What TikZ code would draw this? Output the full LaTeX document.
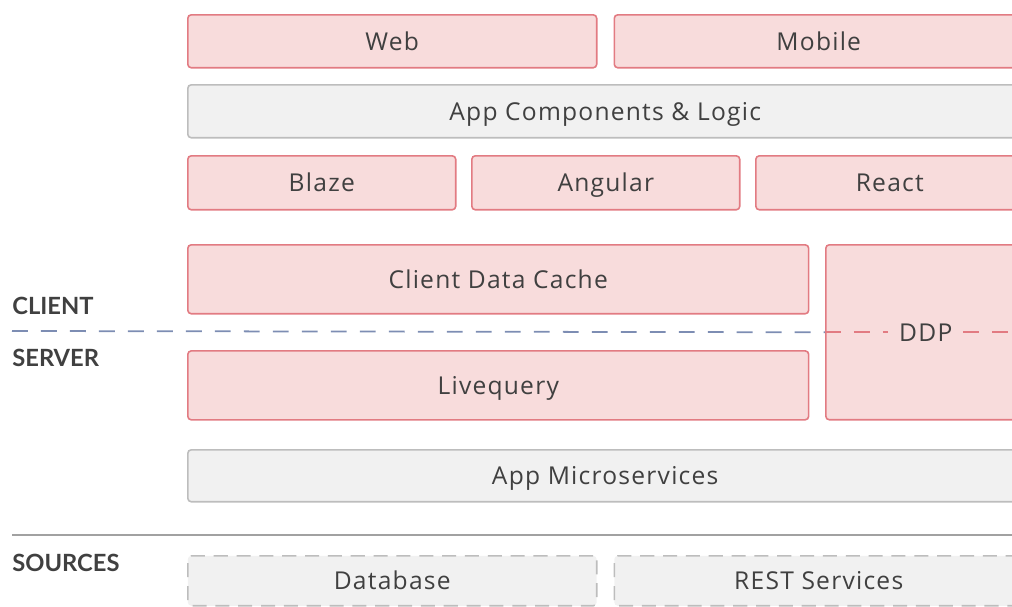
\documentclass[tikz,border=0pt]{standalone}
\usepackage{fontspec}
\setmainfont[LetterSpace=5]{Open Sans}
\newfontfamily\labelfont{Lato}
\usetikzlibrary{positioning}
\definecolor{boxred}{HTML}{E27B82}
\definecolor{boxpink}{HTML}{F8DCDC}
\definecolor{boxgray}{HTML}{F1F1F1}
\definecolor{edgegray}{HTML}{BDBDBD}
\definecolor{divblue}{HTML}{7D8DB3}
\definecolor{txtgray}{HTML}{404040}
\tikzset{
    every node/.style={font=\fontsize{14}{16}\selectfont,text=txtgray},
    client box/.style={draw=boxred,fill=boxpink,line width=0.9pt,rounded corners=2pt,anchor=north west,inner sep=0pt,text height=12pt,text depth=1.6pt},
    base box/.style={draw=edgegray,fill=boxgray,line width=0.9pt,rounded corners=2pt,anchor=north west,inner sep=0pt,text height=12pt,text depth=1.6pt},
    source box/.style={base box,dash pattern=on 8pt off 5pt},
    side label/.style={anchor=west,inner sep=0pt,font=\labelfont\fontsize{13.5}{16}\selectfont\bfseries,text=txtgray}
}

\begin{document}
\begin{tikzpicture}[x=0.02cm,y=-0.02cm]
    \useasboundingbox (0,0) rectangle (1012,606);
    \clip (0,0) rectangle (1012,606);

    % client side
    \node[client box,minimum width=8.18cm,minimum height=1.06cm] (web) at (187,14) {Web};
    \node[client box,minimum width=8.18cm,minimum height=1.06cm] (mobile) [right=0.32cm of web] {Mobile};
    \node[base box,minimum width=16.7cm,minimum height=1.06cm] (logic) at (187,84) {App Components \& Logic};
    \node[client box,minimum width=5.36cm,minimum height=1.08cm] (blaze) at (187,155) {Blaze};
    \node[client box,minimum width=5.36cm,minimum height=1.08cm] (angular) [right=0.29cm of blaze] {Angular};
    \node[client box,minimum width=5.36cm,minimum height=1.08cm] (react) [right=0.29cm of angular] {React};
    \node[client box,minimum width=12.42cm,minimum height=1.38cm] (cache) at (187,244) {Client Data Cache};
    \node[client box,minimum width=4cm,minimum height=3.5cm] (ddp) at (825,244) {};
    \node[inner sep=6pt] (ddptext) at (ddp.center) {DDP};

    % server side
    \node[client box,minimum width=12.42cm,minimum height=1.38cm] (livequery) [below=0.71cm of cache] {Livequery};
    \node[base box,minimum width=16.7cm,minimum height=1.04cm] (micro) at (187,449) {App Microservices};

    % sources
    \node[source box,minimum width=8.18cm,minimum height=1.0cm] (database) at (187,555) {Database};
    \node[source box,minimum width=8.18cm,minimum height=1.0cm] (rest) [right=0.32cm of database] {REST Services};

    % divisions
    \node[side label] (client) at (12,306) {CLIENT};
    \node[side label] (server) at (12,358) {SERVER};
    \node[side label] (sources) at (12,563) {SOURCES};
    \coordinate (divstart) at (12,331);
    \coordinate (rulestart) at (12,535);
    \coordinate (ruleend) at (1012,535);
    \draw[divblue,line width=1pt,dash pattern=on 9pt off 7.5pt] (divstart) -- (ddp.west);
    \draw[boxred,line width=1pt,dash pattern=on 9pt off 7.5pt] (ddp.west) -- (ddptext.west);
    \draw[boxred,line width=1pt,dash pattern=on 9pt off 7.5pt] (ddptext.east) -- (ddp.east);
    \draw[edgegray!85!black,line width=0.9pt] (rulestart) -- (ruleend);
  \end{tikzpicture}
\end{document}
